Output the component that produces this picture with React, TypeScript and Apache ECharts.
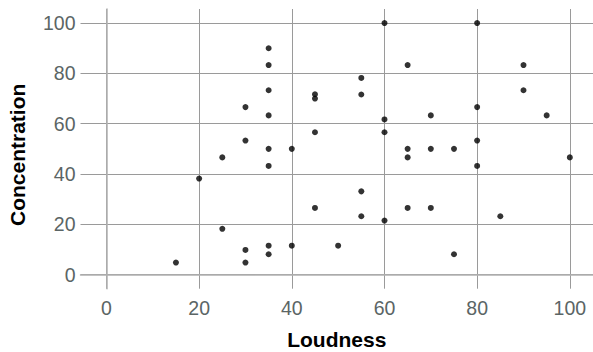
import React, { useEffect, useRef } from "react";
import * as echarts from "echarts";

const loudness = [
  15, 20, 25, 25, 30, 30, 30, 30, 35, 35, 35, 35, 35, 35, 35, 35, 40, 40,
  45, 45, 45, 45, 50, 55, 55, 55, 55, 60, 60, 60, 60, 65, 65, 65, 65, 70,
  70, 70, 75, 75, 80, 80, 80, 80, 85, 90, 90, 95, 100,
];
const concentration = [
  4.8, 38.2, 46.6, 18.2, 66.6, 53.3, 9.8, 4.8, 90, 83.3, 73.3, 63.3, 50,
  43.2, 11.5, 8.1, 50, 11.5, 71.7, 70, 56.6, 26.5, 11.5, 78.2, 71.6, 33.1,
  23.2, 100, 61.7, 56.6, 21.5, 83.3, 50, 46.6, 26.5, 63.3, 50, 26.5, 50, 8.1,
  100, 66.6, 53.3, 43.2, 23.2, 83.3, 73.3, 63.3, 46.6,
];
const xTicks = [0, 20, 40, 60, 80, 100];
const yTicks = [0, 20, 40, 60, 80, 100];

export default function App() {
  const ref = useRef<HTMLDivElement>(null);
  useEffect(() => {
    if (!ref.current) return;
    const chart = echarts.init(ref.current, null, { renderer: "svg" });
    const labelStyle = {
      color: "#5b6565",
      fontSize: 19.5,
      fontFamily: "Liberation Sans, Arial, sans-serif",
    };
    const nameStyle = {
      color: "#000",
      fontSize: 21,
      fontWeight: "bold" as const,
      fontFamily: "Liberation Sans, Arial, sans-serif",
    };
    chart.setOption({
      animation: false,
      grid: {
        left: 80.5,
        right: 0,
        top: 9,
        bottom: 63.3,
        containLabel: false,
        outerBoundsMode: "none",
      },
      xAxis: {
        type: "value",
        min: -5.6,
        max: 105,
        name: "Loudness",
        nameLocation: "middle",
        nameGap: 40,
        nameTextStyle: nameStyle,
        axisLine: { show: true, lineStyle: { color: "#b0b0b0", width: 1.5 } },
        axisTick: { show: false, customValues: xTicks },
        axisLabel: { ...labelStyle, margin: 9, customValues: xTicks, hideOverlap: false },
        splitLine: { show: true, lineStyle: { color: "#9a9a9a", width: 1 } },
      },
      yAxis: {
        type: "value",
        min: -5.6,
        max: 105.6,
        name: "Concentration",
        nameLocation: "middle",
        nameGap: 53,
        nameTextStyle: { ...nameStyle, padding: [0, 12, 0, 0] },
        axisLine: { show: true, lineStyle: { color: "#b0b0b0", width: 1.5 } },
        axisTick: { show: false, customValues: yTicks },
        axisLabel: { ...labelStyle, margin: 5, customValues: yTicks },
        splitLine: { show: true, lineStyle: { color: "#9a9a9a", width: 1 } },
      },
      series: [
        {
          type: "scatter",
          symbol: "circle",
          symbolSize: 6,
          itemStyle: { color: "#000" },
          data: loudness.map((x, i) => [x, concentration[i]]),
        },
      ],
    });
    return () => chart.dispose();
  }, []);
  return (
    <div
      ref={ref}
      style={{ position: "absolute", left: 0, top: 0, width: 593, height: 352 }}
    />
  );
}
